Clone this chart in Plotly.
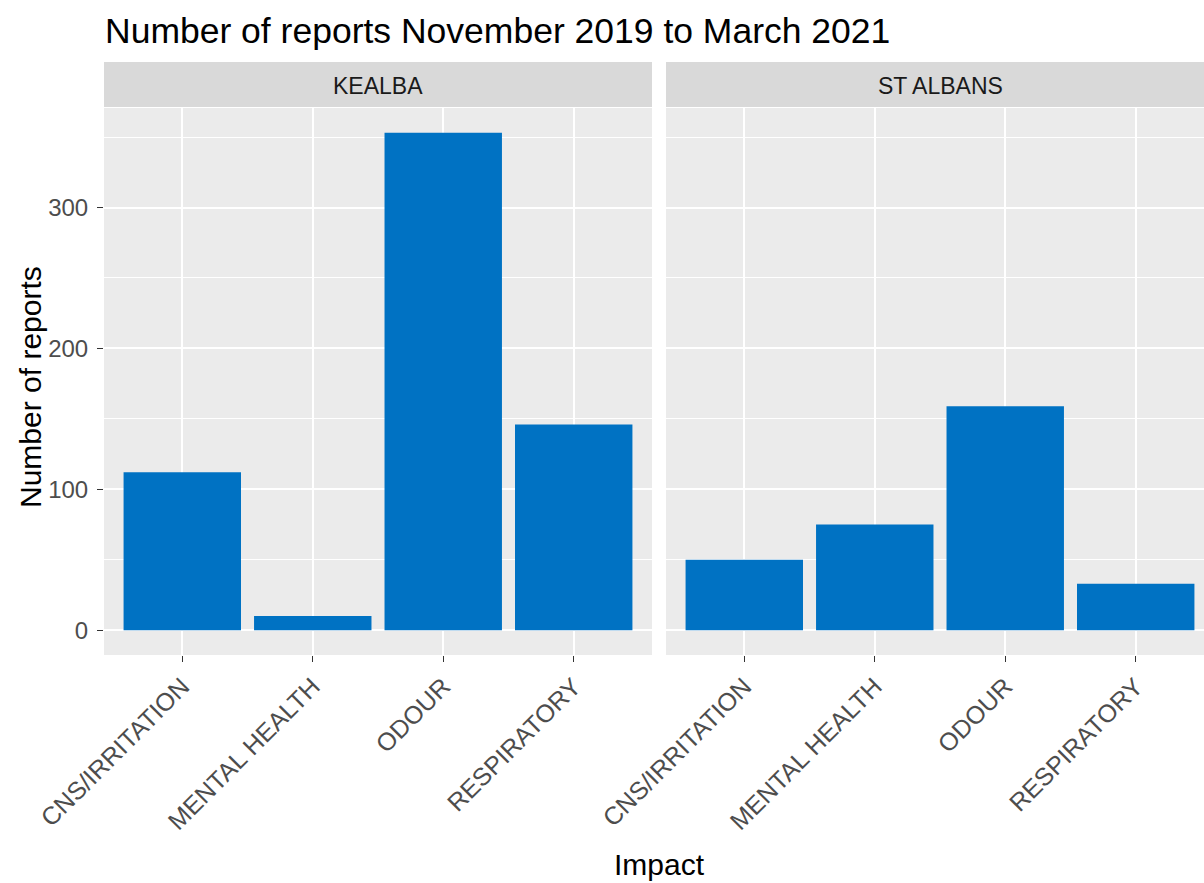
import plotly.graph_objects as go

# ---- data ----
categories = ["CNS/IRRITATION", "MENTAL HEALTH", "ODOUR", "RESPIRATORY"]
facets = ["KEALBA", "ST ALBANS"]
kealba_counts = [112, 10, 353, 146]
st_albans_counts = [50, 75, 159, 33]
y_tick_vals = [0, 100, 200, 300]

W, H = 1204, 883
BAR = "#0072C3"
FONT = "Liberation Sans, Arial, sans-serif"

def px_x(p):
    return p / W

def px_y(p):
    return 1 - p / H

panel1 = [px_x(104), px_x(652)]
panel2 = [px_x(666), 1.0]
ydom = [px_y(655), px_y(108)]
unit_px = (652 - 104) / 4.2
p2_hi = -0.6 + (1204 - 666) / unit_px

fig = go.Figure()
fig.add_trace(go.Bar(x=categories, y=kealba_counts, marker_color=BAR,
                     marker_line_width=0, width=0.9, xaxis="x", yaxis="y",
                     showlegend=False))
fig.add_trace(go.Bar(x=categories, y=st_albans_counts, marker_color=BAR,
                     marker_line_width=0, width=0.9, xaxis="x2", yaxis="y2",
                     showlegend=False))

yrange = [-17.65, 370.65]
xcommon = dict(type="category", showgrid=True, gridcolor="white", gridwidth=2,
               zeroline=False, ticks="outside", ticklen=6, tickwidth=1.2,
               tickcolor="#333333", tickangle=-45,
               tickfont=dict(family=FONT, size=25, color="#4D4D4D"),
               automargin=False, showline=False, fixedrange=True)
fig.update_layout(
    width=W, height=H,
    margin=dict(l=0, r=0, t=0, b=0),
    paper_bgcolor="white", plot_bgcolor="#EBEBEB",
    bargap=0.1,
    xaxis=dict(domain=panel1, range=[-0.6, 3.6], anchor="y", **xcommon),
    xaxis2=dict(domain=panel2, range=[-0.6, p2_hi], anchor="y2", **xcommon),
    yaxis=dict(domain=ydom, range=yrange, tickvals=y_tick_vals,
               showgrid=True, gridcolor="white", gridwidth=2, zeroline=False,
               ticks="outside", ticklen=6, tickwidth=1.2, tickcolor="#333333",
               ticklabelstandoff=4,
               tickfont=dict(family=FONT, size=24, color="#4D4D4D"),
               minor=dict(tickvals=[50, 150, 250, 350], showgrid=True,
                          gridcolor="white", gridwidth=1, ticks=""),
               anchor="x", automargin=False),
    yaxis2=dict(domain=ydom, range=yrange, tickvals=y_tick_vals,
                showgrid=True, gridcolor="white", gridwidth=2, zeroline=False,
                showticklabels=False, ticks="",
                minor=dict(tickvals=[50, 150, 250, 350], showgrid=True,
                           gridcolor="white", gridwidth=1, ticks=""),
                anchor="x2", automargin=False),
)

# facet strips
for dom, name in zip([panel1, [panel2[0], px_x(1214)]], facets):
    fig.add_shape(type="rect", xref="paper", yref="paper",
                  x0=dom[0], x1=min(dom[1], 1.0), y0=px_y(107), y1=px_y(62),
                  fillcolor="#D9D9D9", line_width=0, layer="below")
    fig.add_annotation(text=name, xref="paper", yref="paper",
                       x=(dom[0] + dom[1]) / 2, y=px_y(86), showarrow=False,
                       xanchor="center", yanchor="middle",
                       font=dict(family=FONT, size=23, color="#1A1A1A"))

# title
fig.add_annotation(text="Number of reports November 2019 to March 2021",
                   xref="paper", yref="paper", x=px_x(103), y=px_y(31),
                   xanchor="left", yanchor="middle", showarrow=False,
                   font=dict(family=FONT, size=35.5, color="black"))
# axis titles
fig.add_annotation(text="Impact", xref="paper", yref="paper",
                   x=px_x(659), y=px_y(864), xanchor="center", yanchor="middle",
                   showarrow=False, font=dict(family=FONT, size=30, color="black"))
fig.add_annotation(text="Number of reports", xref="paper", yref="paper",
                   x=px_x(31), y=px_y(387), xanchor="center", yanchor="middle",
                   textangle=-90, showarrow=False,
                   font=dict(family=FONT, size=30, color="black"))

fig.write_html("out.html", config={"displayModeBar": False},
               post_script="document.body.style.margin='0';"
                           "document.body.style.overflow='hidden';")
